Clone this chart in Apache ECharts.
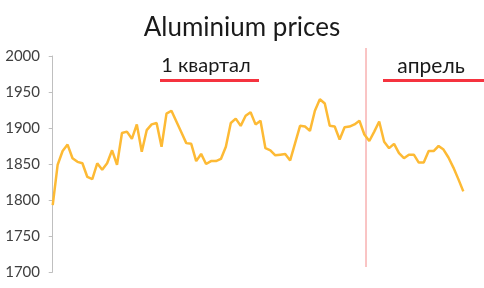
<!DOCTYPE html>
<html><head><meta charset="utf-8">
<script src="https://cdn.jsdelivr.net/npm/echarts@6/dist/echarts.min.js"></script>
<style>html,body{margin:0;padding:0;background:#fff}#c{width:484px;height:288px}</style>
</head><body><div id="c"></div>
<script>
var titleText = 'Aluminium prices';
var periodLabels = ['1 квартал', 'апрель'];
var yTicks = [1700, 1750, 1800, 1850, 1900, 1950, 2000];
var prices = [1793,1849,1868,1877,1858,1853,1851,1832,1829,1851,1842,1851,1869,1849,1893,1895,1885,1905,1867,1897,1905,1907,1874,1920,1924,1909,1894,1879,1878,1854,1864,1850,1854,1854,1857,1874,1907,1913,1903,1917,1922,1905,1910,1872,1869,1862,1863,1864,1855,1879,1903,1902,1896,1924,1940,1934,1903,1902,1884,1901,1902,1905,1910,1891,1882,1895,1909,1881,1872,1878,1865,1858,1863,1863,1852,1852,1868,1868,1875,1870,1859,1845,1829,1812];
var data = prices.map(function(v,i){return [i,v];});
var FONT = 'Lato';
var chart = echarts.init(document.getElementById('c'));
chart.setOption({
  animation:false,
  title:{text:titleText,left:'center',top:10,textStyle:{fontFamily:FONT,fontSize:26,fontWeight:'normal',color:'#1a1a1a'}},
  grid:{left:50,right:20.7,top:56,bottom:16},
  xAxis:{type:'value',min:-0.55,max:83,show:false},
  yAxis:{type:'value',min:yTicks[0],max:yTicks[yTicks.length-1],interval:50,
    axisLine:{show:true,lineStyle:{color:'#bfbfbf',width:1}},
    axisTick:{show:true,length:4,lineStyle:{color:'#bfbfbf'}},
    splitLine:{show:false},
    axisLabel:{fontFamily:FONT,fontSize:15,color:'#404040',margin:10,formatter:function(v){return String(v);}}},
  series:[{type:'line',data:data,symbol:'none',lineStyle:{color:'#FDBA35',width:2.5},itemStyle:{color:'#FDBA35'}}],
  graphic:[
    {type:'line',shape:{x1:366,y1:48,x2:366,y2:267},style:{stroke:'#f48a8a',lineWidth:1}},
    {type:'text',x:206,y:66,style:{text:periodLabels[0],fontFamily:FONT,fontSize:20,fill:'#1a1a1a',textAlign:'center',textVerticalAlign:'middle'}},
    {type:'rect',shape:{x:160,y:79,width:99,height:3},style:{fill:'#f5333f'}},
    {type:'text',x:431,y:66,style:{text:periodLabels[1],fontFamily:FONT,fontSize:21,fill:'#1a1a1a',textAlign:'center',textVerticalAlign:'middle'}},
    {type:'rect',shape:{x:383,y:79,width:101,height:3},style:{fill:'#f5333f'}}
  ]
});
</script></body></html>
